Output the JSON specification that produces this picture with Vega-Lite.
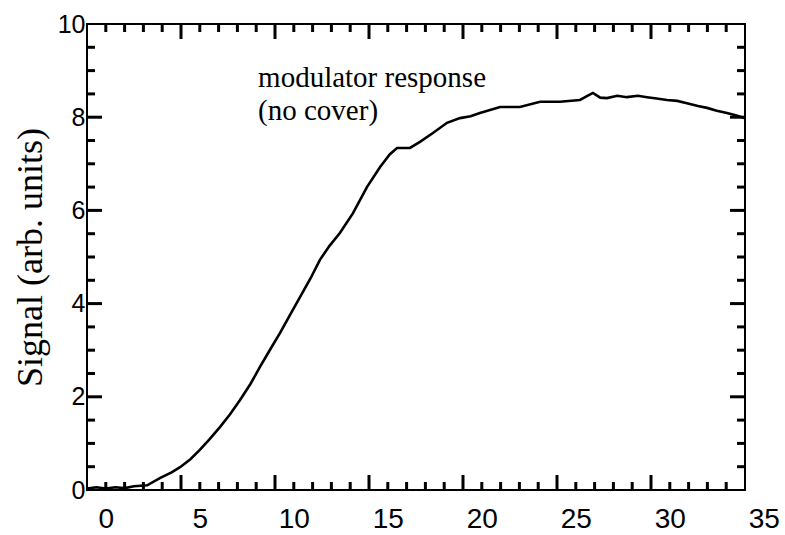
{
  "$schema": "https://vega.github.io/schema/vega-lite/v6.json",
  "width": 658,
  "height": 466,
  "autosize": {"type": "none"},
  "padding": {"left": 87, "top": 24, "right": 40, "bottom": 45},
  "background": "white",
  "config": {
    "view": {"stroke": "black", "strokeWidth": 2},
    "axis": {"grid": false, "domain": false, "labelColor": "black", "titleColor": "black"}
  },
  "datasets": {
    "signal": [
      {"t": -1.0, "s": 0.03}, {"t": -0.5, "s": 0.06}, {"t": 0.0, "s": 0.03}, {"t": 0.5, "s": 0.06},
      {"t": 1.0, "s": 0.04}, {"t": 1.5, "s": 0.08}, {"t": 2.2, "s": 0.10}, {"t": 2.9, "s": 0.26},
      {"t": 3.5, "s": 0.38}, {"t": 3.95, "s": 0.49}, {"t": 4.5, "s": 0.66}, {"t": 5.0, "s": 0.86},
      {"t": 5.5, "s": 1.08}, {"t": 6.07, "s": 1.35}, {"t": 6.6, "s": 1.62}, {"t": 7.14, "s": 1.93},
      {"t": 7.7, "s": 2.28}, {"t": 8.2, "s": 2.64}, {"t": 8.75, "s": 3.02}, {"t": 9.27, "s": 3.37},
      {"t": 9.8, "s": 3.76}, {"t": 10.33, "s": 4.14}, {"t": 10.9, "s": 4.55}, {"t": 11.39, "s": 4.94},
      {"t": 11.9, "s": 5.24}, {"t": 12.46, "s": 5.52}, {"t": 13.15, "s": 5.94}, {"t": 13.89, "s": 6.50},
      {"t": 14.59, "s": 6.93}, {"t": 15.1, "s": 7.2}, {"t": 15.49, "s": 7.34}, {"t": 16.18, "s": 7.34},
      {"t": 16.71, "s": 7.47}, {"t": 17.4, "s": 7.66}, {"t": 18.15, "s": 7.88}, {"t": 18.84, "s": 7.98},
      {"t": 19.4, "s": 8.02}, {"t": 19.9, "s": 8.09}, {"t": 20.97, "s": 8.22}, {"t": 22.03, "s": 8.22},
      {"t": 23.1, "s": 8.33}, {"t": 24.16, "s": 8.33}, {"t": 25.22, "s": 8.37}, {"t": 25.91, "s": 8.52},
      {"t": 26.3, "s": 8.42}, {"t": 26.66, "s": 8.41}, {"t": 27.2, "s": 8.46}, {"t": 27.72, "s": 8.43},
      {"t": 28.3, "s": 8.46}, {"t": 28.79, "s": 8.43}, {"t": 29.3, "s": 8.40}, {"t": 29.85, "s": 8.37},
      {"t": 30.4, "s": 8.35}, {"t": 30.91, "s": 8.30}, {"t": 31.5, "s": 8.24}, {"t": 31.98, "s": 8.20},
      {"t": 32.5, "s": 8.14}, {"t": 33.04, "s": 8.09}, {"t": 33.5, "s": 8.04}, {"t": 34.0, "s": 7.98}
    ],
    "notes": [
      {"t": 8.1, "s": 8.65, "label": "modulator response\n(no cover)"}
    ],
    "xmajor": [{"v": 4}, {"v": 9}, {"v": 14}, {"v": 19}, {"v": 24}, {"v": 29}],
    "xminor": [
      {"v": 0}, {"v": 1}, {"v": 2}, {"v": 3}, {"v": 5}, {"v": 6}, {"v": 7}, {"v": 8},
      {"v": 10}, {"v": 11}, {"v": 12}, {"v": 13}, {"v": 15}, {"v": 16}, {"v": 17}, {"v": 18},
      {"v": 20}, {"v": 21}, {"v": 22}, {"v": 23}, {"v": 25}, {"v": 26}, {"v": 27}, {"v": 28},
      {"v": 30}, {"v": 31}, {"v": 32}, {"v": 33}
    ],
    "ymajor": [{"v": 2}, {"v": 4}, {"v": 6}, {"v": 8}],
    "yminor": [
      {"v": 0.5}, {"v": 1}, {"v": 1.5}, {"v": 2.5}, {"v": 3}, {"v": 3.5}, {"v": 4.5}, {"v": 5},
      {"v": 5.5}, {"v": 6.5}, {"v": 7}, {"v": 7.5}, {"v": 8.5}, {"v": 9}, {"v": 9.5}
    ],
    "xlabels": [
      {"t": 0}, {"t": 5}, {"t": 10}, {"t": 15}, {"t": 20}, {"t": 25}, {"t": 30}, {"t": 35}
    ]
  },
  "layer": [
    {
      "data": {"name": "signal"},
      "mark": {"type": "line", "color": "black", "strokeWidth": 2.6},
      "encoding": {
        "x": {"field": "t", "type": "quantitative", "scale": {"domain": [-1, 34], "nice": false, "zero": false}, "axis": null},
        "y": {
          "field": "s", "type": "quantitative",
          "scale": {"domain": [0, 10], "nice": false, "zero": false},
          "axis": {
            "orient": "left", "title": "Signal (arb. units)",
            "values": [0, 2, 4, 6, 8, 10], "ticks": false,
            "labelFont": "Liberation Sans", "labelFontSize": 25, "labelPadding": 2,
            "labelBaseline": "middle", "labelOverlap": false, "labelBound": false, "labelFlush": false,
            "titleFont": "Liberation Serif", "titleFontSize": 36, "titleFontWeight": "normal", "titlePadding": 8
          }
        }
      }
    },
    {
      "data": {"name": "notes"},
      "mark": {"type": "text", "align": "left", "baseline": "alphabetic", "lineBreak": "\n", "lineHeight": 33, "font": "Liberation Serif", "fontSize": 29, "color": "black"},
      "encoding": {
        "x": {"field": "t", "type": "quantitative", "scale": {"domain": [-1, 34], "nice": false, "zero": false}, "axis": null},
        "y": {"field": "s", "type": "quantitative", "scale": {"domain": [0, 10], "nice": false, "zero": false}, "axis": null},
        "text": {"field": "label"}
      }
    },
    {
      "data": {"name": "xmajor"},
      "mark": {"type": "tick", "orient": "vertical", "size": 30, "thickness": 3, "color": "black", "opacity": 1, "clip": true},
      "encoding": {
        "x": {"field": "v", "type": "quantitative", "scale": {"domain": [-1, 34], "nice": false, "zero": false}, "axis": null},
        "y": {"datum": 0, "type": "quantitative", "scale": {"domain": [0, 10], "nice": false, "zero": false}, "axis": null}
      }
    },
    {
      "data": {"name": "xmajor"},
      "mark": {"type": "tick", "orient": "vertical", "size": 30, "thickness": 3, "color": "black", "opacity": 1, "clip": true},
      "encoding": {
        "x": {"field": "v", "type": "quantitative", "scale": {"domain": [-1, 34], "nice": false, "zero": false}, "axis": null},
        "y": {"datum": 10, "type": "quantitative", "scale": {"domain": [0, 10], "nice": false, "zero": false}, "axis": null}
      }
    },
    {
      "data": {"name": "xminor"},
      "mark": {"type": "tick", "orient": "vertical", "size": 16, "thickness": 3, "color": "black", "opacity": 1, "clip": true},
      "encoding": {
        "x": {"field": "v", "type": "quantitative", "scale": {"domain": [-1, 34], "nice": false, "zero": false}, "axis": null},
        "y": {"datum": 0, "type": "quantitative", "scale": {"domain": [0, 10], "nice": false, "zero": false}, "axis": null}
      }
    },
    {
      "data": {"name": "xminor"},
      "mark": {"type": "tick", "orient": "vertical", "size": 16, "thickness": 3, "color": "black", "opacity": 1, "clip": true},
      "encoding": {
        "x": {"field": "v", "type": "quantitative", "scale": {"domain": [-1, 34], "nice": false, "zero": false}, "axis": null},
        "y": {"datum": 10, "type": "quantitative", "scale": {"domain": [0, 10], "nice": false, "zero": false}, "axis": null}
      }
    },
    {
      "data": {"name": "ymajor"},
      "mark": {"type": "tick", "orient": "horizontal", "size": 30, "thickness": 3, "color": "black", "opacity": 1, "clip": true},
      "encoding": {
        "y": {"field": "v", "type": "quantitative", "scale": {"domain": [0, 10], "nice": false, "zero": false}, "axis": null},
        "x": {"datum": -1, "type": "quantitative", "scale": {"domain": [-1, 34], "nice": false, "zero": false}, "axis": null}
      }
    },
    {
      "data": {"name": "ymajor"},
      "mark": {"type": "tick", "orient": "horizontal", "size": 30, "thickness": 3, "color": "black", "opacity": 1, "clip": true},
      "encoding": {
        "y": {"field": "v", "type": "quantitative", "scale": {"domain": [0, 10], "nice": false, "zero": false}, "axis": null},
        "x": {"datum": 34, "type": "quantitative", "scale": {"domain": [-1, 34], "nice": false, "zero": false}, "axis": null}
      }
    },
    {
      "data": {"name": "yminor"},
      "mark": {"type": "tick", "orient": "horizontal", "size": 16, "thickness": 3, "color": "black", "opacity": 1, "clip": true},
      "encoding": {
        "y": {"field": "v", "type": "quantitative", "scale": {"domain": [0, 10], "nice": false, "zero": false}, "axis": null},
        "x": {"datum": -1, "type": "quantitative", "scale": {"domain": [-1, 34], "nice": false, "zero": false}, "axis": null}
      }
    },
    {
      "data": {"name": "yminor"},
      "mark": {"type": "tick", "orient": "horizontal", "size": 16, "thickness": 3, "color": "black", "opacity": 1, "clip": true},
      "encoding": {
        "y": {"field": "v", "type": "quantitative", "scale": {"domain": [0, 10], "nice": false, "zero": false}, "axis": null},
        "x": {"datum": 34, "type": "quantitative", "scale": {"domain": [-1, 34], "nice": false, "zero": false}, "axis": null}
      }
    },
    {
      "data": {"name": "xlabels"},
      "mark": {"type": "point", "opacity": 0},
      "encoding": {
        "x": {
          "field": "t", "type": "quantitative",
          "scale": {"domain": [-1, 35], "range": [0, 676.8], "nice": false, "zero": false},
          "axis": {
            "orient": "bottom", "title": null, "ticks": false,
            "values": [0, 5, 10, 15, 20, 25, 30, 35],
            "labelFont": "Liberation Sans", "labelFontSize": 28, "labelPadding": 15,
            "labelOverlap": false, "labelBound": false, "labelFlush": false
          }
        }
      }
    }
  ],
  "resolve": {"scale": {"x": "independent", "y": "independent"}}
}
